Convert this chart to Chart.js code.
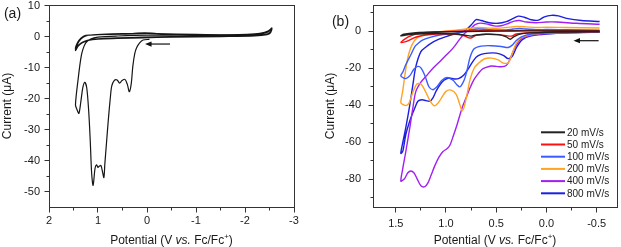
<!DOCTYPE html>
<html><head><meta charset="utf-8">
<script src="https://cdn.jsdelivr.net/npm/chart.js@4.4.1/dist/chart.umd.min.js"></script>
<style>
html,body{margin:0;padding:0;background:#fff;}
#wrap{position:relative;width:621px;height:247px;overflow:hidden;background:#fff;}
#ca{position:absolute;left:0;top:0;width:310px;height:247px;}
#cb{position:absolute;left:310px;top:0;width:311px;height:247px;}
</style></head><body>
<div id="wrap"><canvas id="ca" width="310" height="247"></canvas><canvas id="cb" width="311" height="247"></canvas></div>
<script>
// ---------- Panel (a) data ----------
const aPotential = [-0.05,0.08,0.15,0.21,0.25,0.29,0.32,0.36,0.40,0.45,0.51,0.56,0.61,0.67,0.72,0.75,0.79,0.83,0.86,0.88,0.91,0.94,0.97,1.00,1.03,1.06,1.10,1.13,1.16,1.19,1.23,1.27,1.31,1.35,1.39,1.43,1.46,
  1.40,1.35,1.31,1.25,1.15,1.0,0.6,0.0,-1.0,-1.8,-2.2,-2.38,-2.48,-2.55,
  -2.52,-2.45,-2.2,-1.5,-0.5,0.1,0.6,1.0,1.2,1.32,1.40,1.46,
  1.42,1.35,1.25,1.1,0.7,0.3,0.05,-0.2,-1.0,-1.8,-2.2,-2.38,-2.48,-2.55,
  -2.52,-2.45,-2.2,-1.5,-0.5,0.1,0.6,1.0,1.2,1.32,1.40,1.46,
  1.42,1.35,1.25,1.0,0.5,0.0,-0.5,-1.5,-2.2,-2.4,-2.55];
const aCurrent = [-0.9,-1.1,-2.0,-3.5,-5.5,-9.7,-15,-17.8,-15.5,-13.8,-14.2,-15,-14.0,-14.2,-16,-20,-27,-35,-41,-45.5,-43.5,-41.6,-41.8,-42.2,-41.4,-42.5,-48,-44,-33,-24,-16.5,-14.8,-16.5,-21,-24.8,-23.5,-22,
  -13,-7,-4.2,-2.0,-0.8,-0.2,0.2,0.5,0.4,0.4,0.6,1.0,1.6,2.6,
  1.2,0.6,0.2,0.0,-0.2,-0.4,-0.6,-0.8,-1.2,-2.0,-3.0,-4.5,
  -2.5,-0.8,0.2,0.6,0.9,1.0,1.2,1.0,0.7,0.6,0.8,1.2,1.9,2.8,
  1.5,0.8,0.4,0.2,0.0,-0.2,-0.4,-0.7,-1.1,-1.8,-2.8,-4.0,
  -2.0,-0.5,0.4,0.6,0.8,1.0,0.8,0.6,0.9,1.4,2.4];
const aXTicks = [2,1,0,-1,-2,-3];
const aXMinor = [1.5,0.5,-0.5,-1.5,-2.5];
const aYTicks = [10,0,-10,-20,-30,-40,-50];
const aYMinor = [5,-5,-15,-25,-35,-45];
const aArrowX = [-0.47, 0.04];   // tail, head (V)
const aArrowY = -2.4;            // µA

// ---------- Panel (b) data ----------
const bLabels = ['20 mV/s','50 mV/s','100 mV/s','200 mV/s','400 mV/s','800 mV/s'];
const bColors = ['#222222','#ff1010','#3b5cff','#ffa422','#a21ff0','#1c1fe0'];
const b20Potential = [-0.53,-0.3,0.0,0.2,0.28,0.33,0.36,0.40,0.47,0.6,0.7,0.75,0.8,0.9,1.1,1.3,1.4,1.45,1.42,1.3,1.1,0.8,0.5,0.2,-0.1,-0.53];
const b20Current   = [-0.3,-0.4,-0.6,-1.0,-1.8,-3.2,-4.3,-3.0,-1.8,-1.6,-2.0,-2.6,-2.2,-1.5,-1.2,-1.5,-2.0,-2.5,-1.6,-0.8,-0.4,-0.1,0.1,0.2,0.2,0.2];
const b50Potential = [-0.53,-0.3,0.0,0.2,0.3,0.35,0.4,0.5,0.6,0.7,0.74,0.77,0.82,0.9,1.0,1.1,1.2,1.28,1.33,1.38,1.42,1.45,1.43,1.38,1.3,1.2,1.0,0.8,0.5,0.2,-0.1,-0.53];
const b50Current   = [-0.2,-0.3,-0.5,-0.9,-1.5,-2.6,-2.4,-1.8,-1.6,-2.2,-3.4,-3.6,-2.4,-1.7,-1.4,-1.5,-2.0,-2.8,-3.8,-5.2,-5.9,-6.0,-5.0,-3.2,-1.5,-0.6,-0.1,0.2,0.3,0.4,0.3,0.3];
const b100Potential = [-0.53,-0.3,0.0,0.15,0.25,0.3,0.34,0.38,0.45,0.55,0.65,0.72,0.76,0.79,0.82,0.86,0.89,0.93,0.99,1.04,1.09,1.13,1.17,1.21,1.25,1.28,1.32,1.36,1.40,1.43,1.45,
  1.43,1.40,1.35,1.31,1.27,1.23,1.15,1.06,0.9,0.8,0.74,0.68,0.6,0.5,0.4,0.33,0.27,0.2,0.1,0.0,-0.2,-0.53];
const b100Current   = [-0.3,-0.5,-0.9,-1.5,-3.0,-5.0,-7.5,-8.8,-8.2,-7.8,-8.0,-9.5,-14,-21,-26.5,-30.0,-29.0,-26.5,-25.0,-26.5,-30.0,-31.6,-30.0,-24.0,-19.8,-19.0,-20.5,-24.0,-25.6,-25.0,-24.0,
  -22,-18,-12.7,-8.3,-6.2,-4.7,-3.2,-2.0,-1.1,0.0,0.8,1.2,1.0,0.7,0.7,1.2,1.5,1.2,0.8,1.0,0.8,0.6];
const b200Potential = [-0.53,-0.3,0.0,0.15,0.25,0.3,0.34,0.38,0.43,0.48,0.55,0.62,0.68,0.72,0.76,0.79,0.82,0.84,0.86,0.90,0.95,1.0,1.05,1.09,1.12,1.16,1.20,1.25,1.29,1.33,1.37,1.40,1.43,1.45,
  1.43,1.41,1.39,1.37,1.34,1.30,1.25,1.18,1.10,1.0,0.9,0.8,0.74,0.68,0.6,0.5,0.4,0.3,0.2,0.1,0.0,-0.2,-0.53];
const b200Current   = [-0.3,-0.5,-1.0,-1.8,-3.5,-6.5,-12,-17,-17.2,-15.5,-14.5,-15.0,-17.5,-20,-26,-34,-41,-43,-40,-34,-31.8,-32.5,-36.5,-39.5,-40.2,-37.5,-33,-28.5,-28.5,-33,-39,-40.2,-39.5,-38.7,
  -32,-24,-17,-12,-7.5,-4.2,-2.5,-1.2,-0.5,0.1,0.6,1.2,1.8,2.0,1.8,1.6,2.0,2.6,2.4,2.0,2.2,2.0,1.8];
const b400Potential = [-0.53,-0.3,0.0,0.15,0.25,0.3,0.34,0.37,0.40,0.45,0.5,0.55,0.6,0.64,0.68,0.72,0.76,0.80,0.83,0.86,0.89,0.93,0.96,0.99,1.03,1.07,1.11,1.15,1.18,1.21,1.25,1.29,1.32,1.35,1.38,1.41,1.43,1.45,
  1.43,1.40,1.36,1.33,1.30,1.25,1.2,1.13,1.06,1.0,0.93,0.87,0.83,0.79,0.75,0.71,0.66,0.6,0.52,0.45,0.38,0.32,0.27,0.2,0.1,0.0,-0.1,-0.3,-0.53];
const b400Current   = [-0.3,-0.6,-1.2,-2.2,-4.0,-7.5,-12,-16,-18.5,-19.2,-19.0,-18.8,-19.5,-20.5,-23,-26,-30.5,-36,-40,-45,-50.5,-57,-61.5,-63.5,-65,-68,-72.5,-78,-82,-84,-83.5,-79.5,-76.5,-75.5,-76.5,-79.5,-80.5,-81,
  -74,-65,-52,-41.4,-32.5,-27.5,-24.4,-20,-16.3,-13,-9.1,-4.8,-2.0,0,1.6,3.6,4.4,4.0,2.9,3.0,4.2,5.5,5.8,5.0,4.6,5.0,5.0,4.3,3.8];
const b800Potential = [-0.53,-0.3,0.0,0.15,0.24,0.3,0.34,0.38,0.43,0.5,0.58,0.65,0.7,0.74,0.78,0.82,0.87,0.92,0.97,1.02,1.06,1.10,1.13,1.16,1.20,1.24,1.28,1.31,1.35,1.40,1.43,1.45,
  1.43,1.40,1.36,1.33,1.30,1.25,1.20,1.15,1.07,1.0,0.9,0.83,0.78,0.74,0.70,0.65,0.57,0.48,0.40,0.33,0.28,0.22,0.15,0.08,0.02,-0.05,-0.12,-0.2,-0.35,-0.53];
const b800Current   = [-0.5,-0.8,-1.5,-2.5,-4.5,-9.0,-13.5,-14.8,-13.0,-11.8,-11.8,-12.5,-14.0,-17.0,-20.5,-23.5,-25.5,-25.8,-25.3,-26.5,-28.9,-32.5,-36,-37.8,-37.5,-37,-37.8,-41.4,-46.8,-55.8,-64.8,-66,
  -60,-52,-39.6,-29,-19,-11,-8.5,-6.5,-4.3,-2.9,-1.2,-0.2,1.8,4.0,6.3,5.8,4.6,4.3,5.2,7.0,8.2,7.6,6.2,6.0,7.8,8.6,8.3,7.0,5.8,5.3];
const bXTicks = [1.5,1.0,0.5,0.0,-0.5];
const bXMinor = [1.25,0.75,0.25,-0.25];
const bYTicks = [0,-20,-40,-60,-80];
const bYMinor = [10,-10,-30,-50,-70,-90];
const bArrowX = [-0.52, -0.27];
const bArrowY = -5.1;

// ---------- helpers ----------
const FONT = "'Liberation Sans', Arial, Helvetica, sans-serif";
const INK = '#1a1a1a';
const AXIS = '#333333';
const pts = (xs, ys) => xs.map((x, i) => ({x: x, y: ys[i]}));

function makeDecor(cfg) {
  return {
    id: 'decor',
    afterDraw(chart) {
      const ctx = chart.ctx, c = chart.chartArea, sx = chart.scales.x, sy = chart.scales.y;
      ctx.save();
      ctx.strokeStyle = AXIS; ctx.lineWidth = 1;
      const L = Math.floor(c.left) + 0.5, R = Math.floor(c.right) + 0.5;
      const T = Math.floor(c.top) + 0.5, B = Math.floor(c.bottom) + 0.5;
      ctx.strokeRect(L, T, R - L, B - T);
      ctx.beginPath();
      cfg.xMajor.forEach(v => { const p = Math.floor(sx.getPixelForValue(v)) + 0.5; ctx.moveTo(p, B); ctx.lineTo(p, B + 5); });
      cfg.xMinor.forEach(v => { const p = Math.floor(sx.getPixelForValue(v)) + 0.5; ctx.moveTo(p, B); ctx.lineTo(p, B + 3); });
      cfg.yMajor.forEach(v => { const p = Math.floor(sy.getPixelForValue(v)) + 0.5; ctx.moveTo(L, p); ctx.lineTo(L - 5, p); });
      cfg.yMinor.forEach(v => { const p = Math.floor(sy.getPixelForValue(v)) + 0.5; ctx.moveTo(L, p); ctx.lineTo(L - 3, p); });
      ctx.stroke();
      // scan direction arrow
      const tx = sx.getPixelForValue(cfg.arrowX[0]), hx = sx.getPixelForValue(cfg.arrowX[1]);
      const ay = sy.getPixelForValue(cfg.arrowY);
      const dir = Math.sign(tx - hx);
      ctx.strokeStyle = '#111'; ctx.fillStyle = '#111'; ctx.lineWidth = 1.2;
      ctx.beginPath(); ctx.moveTo(tx, ay); ctx.lineTo(hx + dir * 4, ay); ctx.stroke();
      ctx.beginPath(); ctx.moveTo(hx, ay); ctx.lineTo(hx + dir * 6.5, ay - 2.6); ctx.lineTo(hx + dir * 6.5, ay + 2.6); ctx.closePath(); ctx.fill();
      // panel label
      ctx.fillStyle = INK; ctx.font = '14px ' + FONT; ctx.textAlign = 'center'; ctx.textBaseline = 'middle';
      ctx.fillText(cfg.panel, cfg.panelX, cfg.panelY);
      // x-axis title with italic "vs." and superscript "+"
      const parts = [
        {t: 'Potential (V ', f: '12px ' + FONT, dy: 0},
        {t: 'vs.', f: 'italic 12px ' + FONT, dy: 0},
        {t: ' Fc/Fc', f: '12px ' + FONT, dy: 0},
        {t: '+', f: '8px ' + FONT, dy: -4.5},
        {t: ')', f: '12px ' + FONT, dy: 0}
      ];
      let total = 0;
      parts.forEach(p => { ctx.font = p.f; p.w = ctx.measureText(p.t).width; total += p.w; });
      let x = (c.left + c.right) / 2 - total / 2;
      ctx.textAlign = 'left'; ctx.textBaseline = 'alphabetic';
      parts.forEach(p => { ctx.font = p.f; ctx.fillText(p.t, x, 243.5 + p.dy); x += p.w; });
      // legend
      if (cfg.legend) {
        const lg = cfg.legend;
        chart.data.datasets.forEach((ds, i) => {
          const y = lg.y + i * lg.dy;
          ctx.strokeStyle = ds.borderColor; ctx.lineWidth = 2;
          ctx.beginPath(); ctx.moveTo(lg.x, y); ctx.lineTo(lg.x + 24, y); ctx.stroke();
          ctx.fillStyle = INK; ctx.font = '10px ' + FONT; ctx.textBaseline = 'middle';
          ctx.fillText(ds.label, lg.x + 26, y + 0.5);
        });
      }
      ctx.restore();
    }
  };
}

function axisX(min, max, ticks, fmt, pad) {
  return {
    type: 'linear', reverse: true, min: min, max: max,
    grid: {display: false, drawTicks: false}, border: {display: false},
    afterBuildTicks: s => { s.ticks = ticks.map(v => ({value: v})); },
    afterFit: s => { s.height = 40; s.paddingLeft = 0; s.paddingRight = 0; },
    ticks: {color: INK, font: {family: FONT, size: 11}, padding: pad, maxRotation: 0, autoSkip: false, callback: fmt}
  };
}
function axisY(min, max, ticks, width, pad, titlePad) {
  return {
    type: 'linear', min: min, max: max,
    grid: {display: false, drawTicks: false}, border: {display: false},
    afterBuildTicks: s => { s.ticks = ticks.map(v => ({value: v})); },
    afterFit: s => { s.width = width; s.paddingTop = 0; s.paddingBottom = 0; },
    ticks: {color: INK, font: {family: FONT, size: 11}, padding: pad, autoSkip: false, callback: v => String(v)},
    title: {display: true, text: 'Current (\u03bcA)', color: INK, font: {family: FONT, size: 12}, padding: {top: titlePad, bottom: 0}}
  };
}
const common = {
  responsive: false, animation: false, devicePixelRatio: 1,
  plugins: {legend: {display: false}, tooltip: {enabled: false}},
  elements: {point: {radius: 0}}
};

new Chart(document.getElementById('ca'), {
  type: 'scatter',
  data: {datasets: [{label: 'CV', data: pts(aPotential, aCurrent), showLine: true, borderColor: '#151515', borderWidth: 1.2, tension: 0.3, pointRadius: 0, fill: false}]},
  options: Object.assign({}, common, {
    layout: {padding: {left: 0, top: 5, right: 16, bottom: 0}},
    scales: {
      x: axisX(-3, 2, aXTicks, v => String(v), 7),
      y: axisY(-55, 10.2, aYTicks, 49, 9, 0)
    }
  }),
  plugins: [makeDecor({xMajor: aXTicks, xMinor: aXMinor, yMajor: aYTicks, yMinor: aYMinor, arrowX: aArrowX, arrowY: aArrowY, panel: '(a)', panelX: 12.5, panelY: 14.5})]
});

const bSeries = [[b20Potential, b20Current], [b50Potential, b50Current], [b100Potential, b100Current], [b200Potential, b200Current], [b400Potential, b400Current], [b800Potential, b800Current]];
new Chart(document.getElementById('cb'), {
  type: 'scatter',
  data: {datasets: bSeries.map((s, i) => ({label: bLabels[i], data: pts(s[0], s[1]), showLine: true, borderColor: bColors[i], borderWidth: 1.4, tension: 0.3, pointRadius: 0, fill: false}))},
  options: Object.assign({}, common, {
    layout: {padding: {left: 0, top: 5, right: 4, bottom: 0}},
    scales: {
      x: axisX(-0.703, 1.727, bXTicks, v => Number(v).toFixed(1), 10),
      y: axisY(-95, 14.2, bYTicks, 63, 12, 13)
    }
  }),
  plugins: [makeDecor({xMajor: bXTicks, xMinor: bXMinor, yMajor: bYTicks, yMinor: bYMinor, arrowX: bArrowX, arrowY: bArrowY, panel: '(b)', panelX: 30.5, panelY: 22, legend: {x: 231, y: 132.3, dy: 12.2}})]
});
</script>
</body></html>
